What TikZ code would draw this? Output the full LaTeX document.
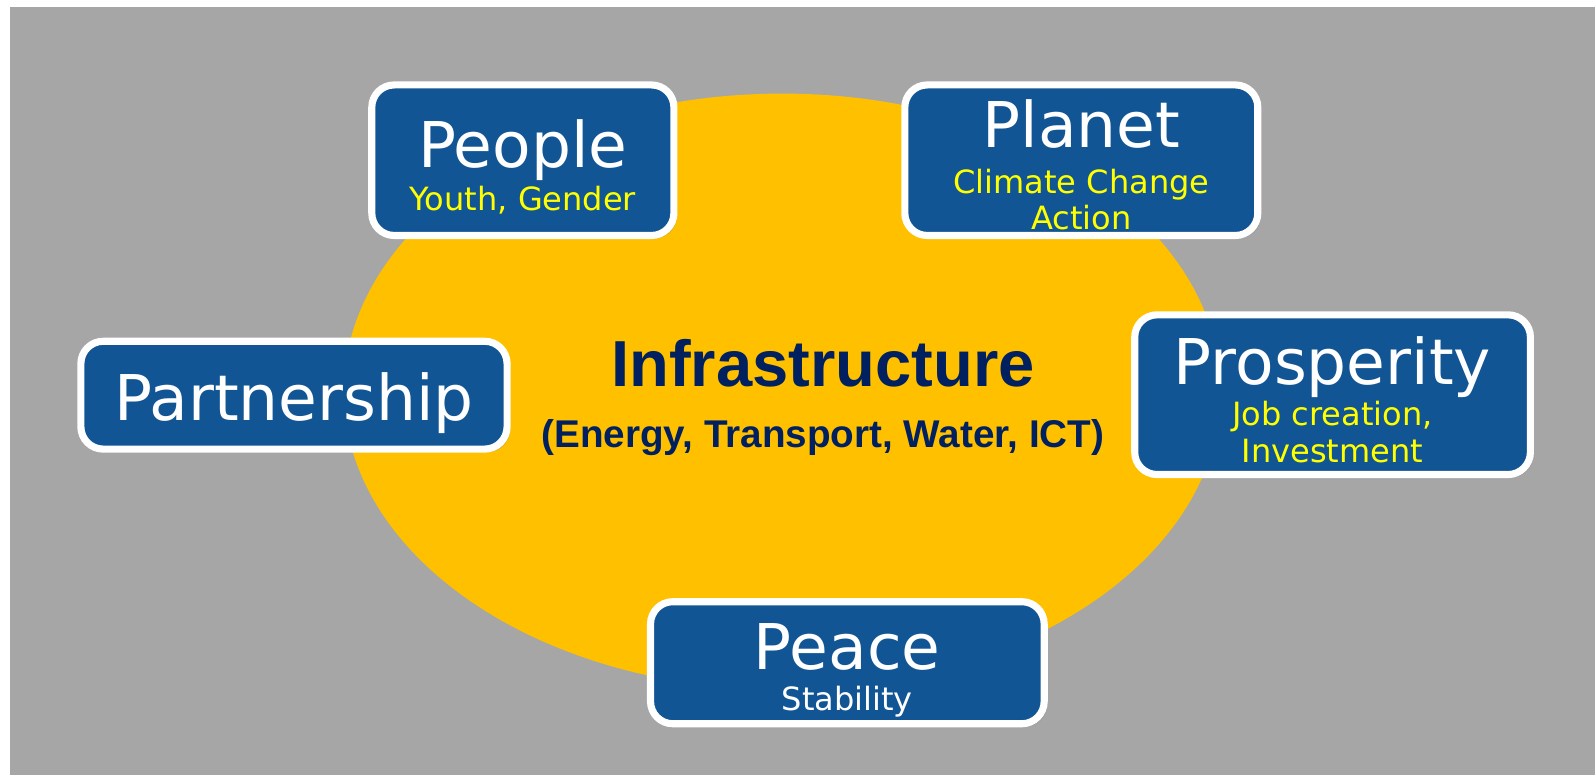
\documentclass[tikz,border=0pt]{standalone}
\usepackage{fontspec}
\setmainfont{DejaVu Sans}
\newfontfamily\arialfont{Liberation Sans}
\usetikzlibrary{shadows}
\definecolor{bgGray}{RGB}{166,166,166}
\definecolor{ellYellow}{RGB}{255,192,0}
\definecolor{boxBlue}{RGB}{17,85,148}
\definecolor{navyText}{RGB}{0,32,96}
\definecolor{subYellow}{RGB}{255,255,0}
\begin{document}
\begin{tikzpicture}[x=1pt,y=-1pt,
  pbox/.style={draw=white, line width=7pt, fill=boxBlue, rounded corners=22pt,
    inner sep=0pt, drop shadow={shadow xshift=3pt, shadow yshift=-3pt, opacity=0.35}},
  ttl/.style={text=white, font=\fontsize{62}{70}\selectfont, inner sep=0pt, anchor=base},
  subt/.style={text=subYellow, font=\fontsize{31.5}{36}\selectfont, inner sep=0pt, anchor=base},
  infra/.style={text=navyText, inner sep=0pt, anchor=base}]
\useasboundingbox (0,0) rectangle (1568,762);
\fill[white] (0,0) rectangle (1568,762);
\fill[bgGray] (10,7) rectangle (1568,762);
\fill[ellYellow] (769,385) ellipse [x radius=431, y radius=293];

\node[infra, font=\arialfont\bfseries\fontsize{64}{70}\selectfont] (infraT) at (809,380) {Infrastructure};
\node[infra, font=\arialfont\bfseries\fontsize{38}{44}\selectfont] (infraS) at (809,440) {(Energy, Transport, Water, ICT)};

% People
\node[pbox, minimum width=297pt, minimum height=148pt] (people) at (514,157.5) {};
\node[ttl] (peopleT) at (514,165) {People};
\node[subt] (peopleS) at (514,207) {Youth, Gender};

% Planet
\node[pbox, minimum width=347pt, minimum height=148pt] (planet) at (1063,157.5) {};
\node[ttl] (planetT) at (1063,145) {Planet};
\node[subt] (planetS1) at (1063,190) {Climate Change};
\node[subt] (planetS2) at (1063,226) {Action};

% Partnership
\node[pbox, minimum width=419pt, minimum height=106pt] (partner) at (289,388.5) {};
\node[ttl] (partnerT) at (289,413) {Partnership};

% Prosperity
\node[pbox, minimum width=389pt, minimum height=157pt] (prosper) at (1310,388) {};
\node[ttl] (prosperT) at (1310,378) {Prosperity};
\node[subt] (prosperS1) at (1310,418) {Job creation,};
\node[subt] (prosperS2) at (1310,455) {Investment};

% Peace
\node[pbox, minimum width=387pt, minimum height=120pt] (peace) at (833,651.5) {};
\node[ttl] (peaceT) at (833,658) {Peace};
\node[subt, text=white] (peaceS) at (833,698) {Stability};
\end{tikzpicture}
\end{document}
